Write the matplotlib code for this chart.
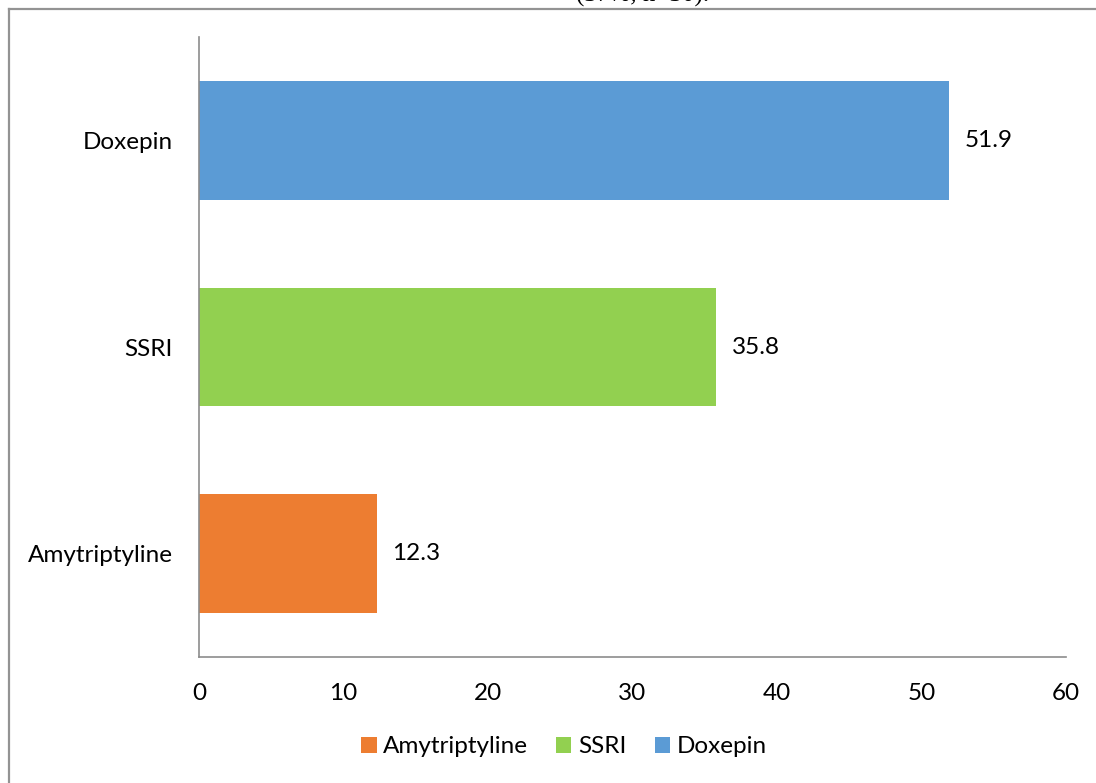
import matplotlib.pyplot as plt
from matplotlib.lines import Line2D

drugs = ['Amytriptyline', 'SSRI', 'Doxepin']
percent = [12.3, 35.8, 51.9]
colors = ['#ED7D31', '#92D050', '#5B9BD5']

plt.rcParams['font.family'] = ['Lato', 'DejaVu Sans']
fs = 17.5

fig = plt.figure(figsize=(10.96, 7.83), dpi=100)
ax = fig.add_axes([0.1816, 0.1609, 0.791, 0.7918])

for i, (d, v, c) in enumerate(zip(drugs, percent, colors)):
    b = ax.barh(i, v, height=0.575, color=c, label=d)
    ax.bar_label(b, labels=[f'{v:.1f}'], padding=11, fontsize=fs)

ax.set_xlim(0, 60)
ax.set_ylim(-0.5, 2.5)
ax.set_xticks(range(0, 61, 10))
ax.set_yticks(range(len(drugs)))
ax.set_yticklabels(drugs)
ax.tick_params(length=0, labelsize=fs)
ax.tick_params(axis='x', pad=19)
ax.tick_params(axis='y', pad=19)
for s in ['top', 'right']:
    ax.spines[s].set_visible(False)
for s in ['left', 'bottom']:
    ax.spines[s].set_color('#8c8c8c')
    ax.spines[s].set_linewidth(1.2)

ax.legend(loc='center', bbox_to_anchor=(0.421, -0.145), ncol=3, frameon=False,
          fontsize=fs, handlelength=0.62, handleheight=0.62, handletextpad=0.28,
          columnspacing=1.15)

# page border (top and left edges only)
bx, by = 8.5 / 1096, 1 - 8.5 / 783
fig.add_artist(Line2D([bx, 1], [by, by], transform=fig.transFigure,
                      color='#939393', lw=1.6))
fig.add_artist(Line2D([bx, bx], [0, by], transform=fig.transFigure,
                      color='#939393', lw=1.6))

# caption line from the preceding text, clipped at the top
fig.text(643 / 1096, 1.006, '(37%, n=30).', family='Liberation Serif',
         fontsize=18, ha='center', va='center')

fig.savefig('out.png', dpi=100)
